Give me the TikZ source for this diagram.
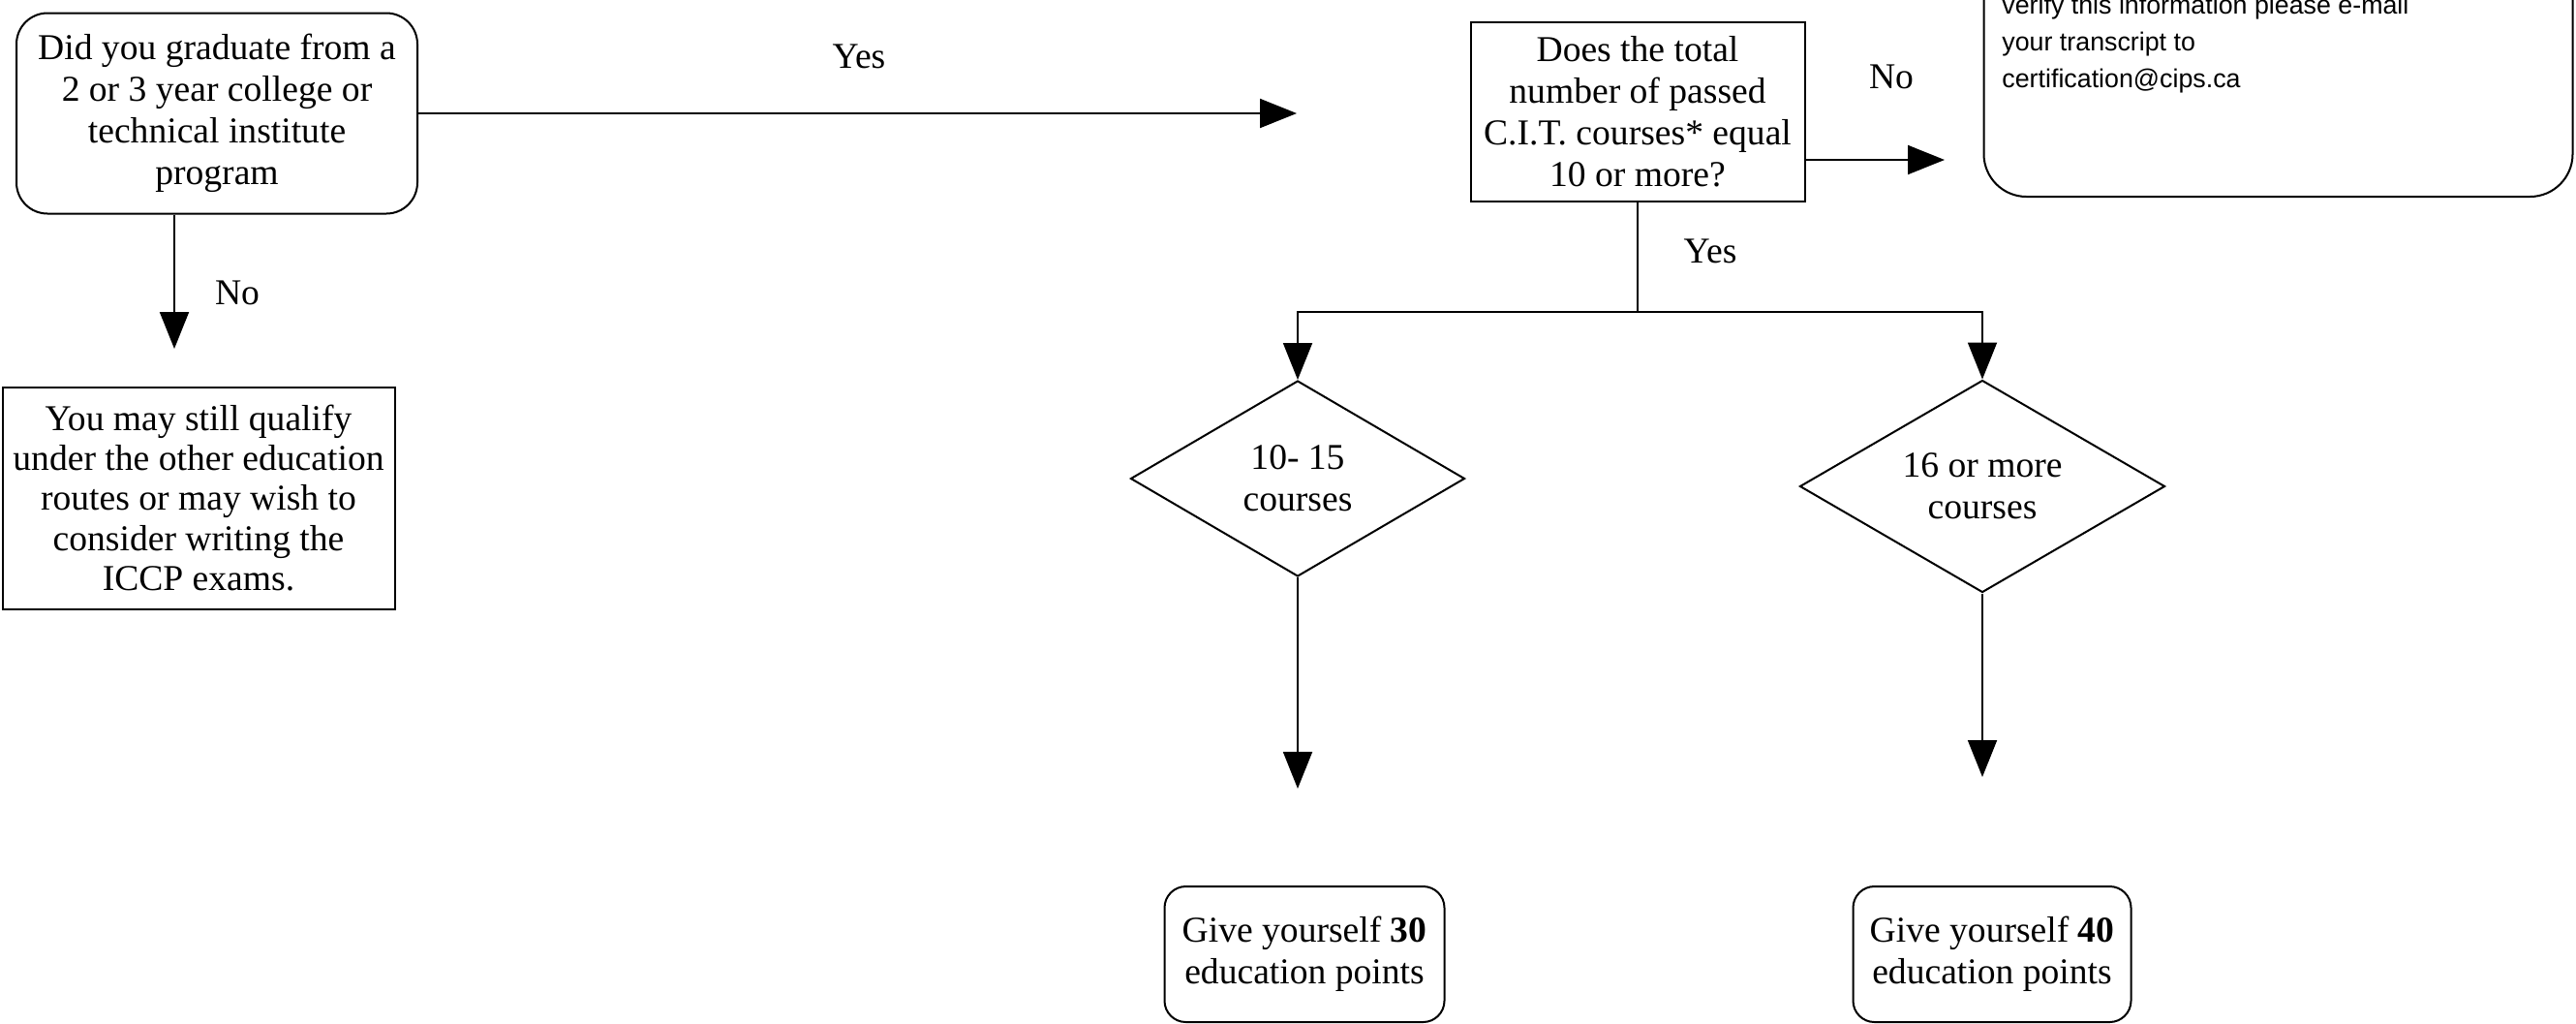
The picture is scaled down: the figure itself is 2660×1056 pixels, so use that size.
\documentclass[tikz,border=0pt]{standalone}
\usepackage{fontspec}
\setmainfont{Liberation Serif}
\newfontfamily\arialfont{Liberation Sans}
\usetikzlibrary{shapes.geometric,arrows.meta}
\begin{document}
\begin{tikzpicture}[x=0.5pt,y=-0.5pt,
  every node/.style={font=\fontsize{18.8}{21.5}\selectfont, inner sep=0pt, align=center},
  arr/.style={line width=1pt,-{Triangle[length=19pt,width=15pt]}},
  conn/.style={line width=1pt},
  roundbox/.style={draw,line width=1pt,rounded corners=16pt},
  sqbox/.style={draw,line width=1pt},
  dia/.style={draw,line width=1pt,diamond,shape aspect=1.7},
  lbl/.style={}
]
\fill[white] (0,0) rectangle (2660,1056);
\useasboundingbox (0,0) rectangle (2660,1056);

% nodes
\node[roundbox, minimum width=207pt, minimum height=103.5pt] (start) at (224,117)
  {Did you graduate from a\\2 or 3 year college or\\technical institute\\program};
\node[sqbox, minimum width=202.5pt, minimum height=114.5pt, font=\fontsize{18.8}{20.6}\selectfont] (other) at (205,514)
  {You may still qualify\\under the other education\\routes or may wish to\\consider writing the\\ICCP exams.};
\node[sqbox, minimum width=172.5pt, minimum height=92.5pt] (cit) at (1691,115)
  {Does the total\\number of passed\\C.I.T. courses* equal\\10 or more?};
\node[roundbox, rounded corners=22pt, minimum width=304pt, minimum height=160pt] (info) at (2352.5,43) {};
\node[anchor=north west, align=left, font=\arialfont\fontsize{13.4}{19}\selectfont] (infotext) at (2067,-5)
  {verify this information please e-mail\\your transcript to\\certification@cips.ca};
\node[dia, minimum width=172.5pt, minimum height=101pt] (d1) at (1340,494) {10- 15\\courses};
\node[dia, minimum width=188.5pt, minimum height=109.5pt] (d2) at (2047,502) {16 or more\\courses};
\node[roundbox, rounded corners=11pt, minimum width=144.5pt, minimum height=70pt] (r30) at (1347,985)
  {Give yourself \textbf{30}\\education points};
\node[roundbox, rounded corners=11pt, minimum width=143.5pt, minimum height=70pt] (r40) at (2057,985)
  {Give yourself \textbf{40}\\education points};

% labels
\node[lbl] (yeslbl) at (887,58) {Yes};
\node[lbl] (nolbl) at (245,302) {No};
\node[lbl] (nolbl2) at (1953,79) {No};
\node[lbl] (yeslbl2) at (1766,259) {Yes};

% free ends
\coordinate (yesend) at (1339,117);
\coordinate (noend) at (180,360);
\coordinate (noend2) at (2008,165);
\coordinate (split) at (1691,322);
\coordinate (d1end) at (1340,814);
\coordinate (d2end) at (2047,802);

% connectors
\draw[arr] (start.east) -- (yesend);
\draw[arr] (start.south -| noend) -- (noend);
\draw[arr] (cit.east |- noend2) -- (noend2);
\draw[conn] (cit.south) -- (split);
\draw[arr] (split) -| (d1.north);
\draw[arr] (split) -| (d2.north);
\draw[arr] (d1.south) -- (d1end);
\draw[arr] (d2.south) -- (d2end);
\end{tikzpicture}
\end{document}
